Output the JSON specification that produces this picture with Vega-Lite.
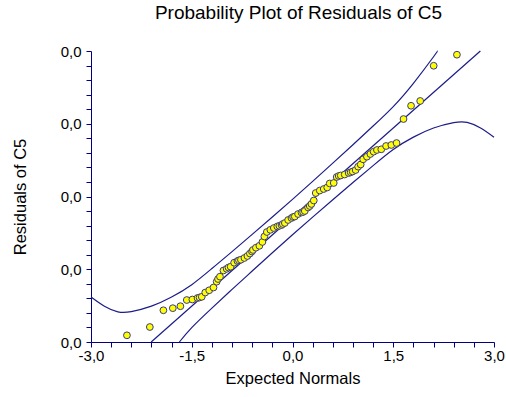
{
  "$schema": "https://vega.github.io/schema/vega-lite/v6.json",
  "width": 403,
  "height": 291,
  "autosize": "none",
  "padding": {"left": 91, "top": 51, "right": 12, "bottom": 55},
  "background": "white",
  "title": {
    "text": "Probability Plot of Residuals of C5",
    "font": "Liberation Sans",
    "fontSize": 19,
    "fontWeight": "normal",
    "color": "#000000",
    "anchor": "middle",
    "frame": "group",
    "dx": 6,
    "offset": 21
  },
  "config": {
    "view": {"stroke": null},
    "axis": {
      "grid": false,
      "domainColor": "#000080",
      "tickColor": "#000080",
      "tickSize": 5,
      "domainWidth": 1,
      "tickWidth": 1,
      "labelFont": "Liberation Sans",
      "labelFontSize": 15,
      "labelColor": "#000000",
      "titleFont": "Liberation Sans",
      "titleFontSize": 16.5,
      "titleFontWeight": "normal",
      "titleColor": "#000000",
      "labelOverlap": false,
      "labelBound": false,
      "labelFlush": false
    }
  },
  "datasets": {
    "points": [
      {"x": -2.465, "y": 0.00092}, {"x": -2.124, "y": 0.00206}, {"x": -1.922, "y": 0.00436},
      {"x": -1.782, "y": 0.00465}, {"x": -1.669, "y": 0.00492}, {"x": -1.574, "y": 0.00577},
      {"x": -1.491, "y": 0.00584}, {"x": -1.414, "y": 0.00605}, {"x": -1.384, "y": 0.00612},
      {"x": -1.351, "y": 0.00621}, {"x": -1.299, "y": 0.0068}, {"x": -1.24, "y": 0.00711},
      {"x": -1.176, "y": 0.00749}, {"x": -1.129, "y": 0.00829}, {"x": -1.109, "y": 0.00866},
      {"x": -1.08, "y": 0.00898}, {"x": -1.028, "y": 0.00983}, {"x": -0.98, "y": 0.01006},
      {"x": -0.953, "y": 0.01024}, {"x": -0.921, "y": 0.01035}, {"x": -0.869, "y": 0.0109},
      {"x": -0.82, "y": 0.01113}, {"x": -0.797, "y": 0.01123}, {"x": -0.768, "y": 0.01131},
      {"x": -0.716, "y": 0.01155}, {"x": -0.671, "y": 0.01182}, {"x": -0.634, "y": 0.01216},
      {"x": -0.604, "y": 0.01244}, {"x": -0.589, "y": 0.01265}, {"x": -0.545, "y": 0.01296},
      {"x": -0.493, "y": 0.01322}, {"x": -0.448, "y": 0.01375}, {"x": -0.419, "y": 0.0145},
      {"x": -0.382, "y": 0.01512}, {"x": -0.33, "y": 0.01542}, {"x": -0.278, "y": 0.01567},
      {"x": -0.226, "y": 0.01588}, {"x": -0.196, "y": 0.01597}, {"x": -0.163, "y": 0.01608},
      {"x": -0.144, "y": 0.01622}, {"x": -0.114, "y": 0.01636}, {"x": -0.065, "y": 0.01677},
      {"x": -0.015, "y": 0.01704}, {"x": 0.009, "y": 0.01718}, {"x": 0.034, "y": 0.01725},
      {"x": 0.083, "y": 0.01759}, {"x": 0.134, "y": 0.0178}, {"x": 0.158, "y": 0.01787},
      {"x": 0.183, "y": 0.01801}, {"x": 0.232, "y": 0.01849}, {"x": 0.257, "y": 0.01869},
      {"x": 0.282, "y": 0.01897}, {"x": 0.317, "y": 0.01945}, {"x": 0.346, "y": 0.02048},
      {"x": 0.406, "y": 0.02082}, {"x": 0.465, "y": 0.02103}, {"x": 0.517, "y": 0.02124},
      {"x": 0.554, "y": 0.02179}, {"x": 0.614, "y": 0.02186}, {"x": 0.658, "y": 0.02268},
      {"x": 0.688, "y": 0.02282}, {"x": 0.718, "y": 0.02289}, {"x": 0.777, "y": 0.02302},
      {"x": 0.836, "y": 0.02323}, {"x": 0.866, "y": 0.02333}, {"x": 0.896, "y": 0.02344},
      {"x": 0.94, "y": 0.02364}, {"x": 0.977, "y": 0.0241}, {"x": 1.015, "y": 0.0244},
      {"x": 1.052, "y": 0.02511}, {"x": 1.108, "y": 0.02547}, {"x": 1.159, "y": 0.02584},
      {"x": 1.208, "y": 0.02616}, {"x": 1.257, "y": 0.02639}, {"x": 1.322, "y": 0.02649},
      {"x": 1.393, "y": 0.02694}, {"x": 1.471, "y": 0.02708}, {"x": 1.549, "y": 0.02735},
      {"x": 1.653, "y": 0.03065}, {"x": 1.765, "y": 0.03247}, {"x": 1.901, "y": 0.03313},
      {"x": 2.102, "y": 0.03797}, {"x": 2.448, "y": 0.03949}
    ],
    "upper": [
      {"x": -3.0, "y": 0.006187}, {"x": -2.8, "y": 0.004919}, {"x": -2.6, "y": 0.004152},
      {"x": -2.4, "y": 0.004184}, {"x": -2.1, "y": 0.004933}, {"x": -1.8, "y": 0.006181},
      {"x": -1.5, "y": 0.00788}, {"x": -1.2, "y": 0.010098}, {"x": -0.9, "y": 0.012427},
      {"x": -0.6, "y": 0.014795}, {"x": -0.3, "y": 0.017184}, {"x": 0.0, "y": 0.019602},
      {"x": 0.3, "y": 0.022081}, {"x": 0.6, "y": 0.024589}, {"x": 0.9, "y": 0.027118},
      {"x": 1.2, "y": 0.029686}, {"x": 1.5, "y": 0.032365}, {"x": 1.8, "y": 0.035563},
      {"x": 2.1, "y": 0.039212}, {"x": 2.157, "y": 0.04}
    ],
    "lower": [
      {"x": -1.684, "y": 0.0}, {"x": -1.5, "y": 0.00198}, {"x": -1.2, "y": 0.004658},
      {"x": -0.9, "y": 0.007227}, {"x": -0.6, "y": 0.009755}, {"x": -0.3, "y": 0.012264},
      {"x": 0.0, "y": 0.014742}, {"x": 0.3, "y": 0.017161}, {"x": 0.6, "y": 0.019549},
      {"x": 0.9, "y": 0.021918}, {"x": 1.2, "y": 0.024246}, {"x": 1.5, "y": 0.026465},
      {"x": 1.8, "y": 0.028163}, {"x": 2.1, "y": 0.029412}, {"x": 2.4, "y": 0.03016},
      {"x": 2.6, "y": 0.030192}, {"x": 2.8, "y": 0.029425}, {"x": 3.0, "y": 0.028157}
    ],
    "center": [
      {"x": -2.104, "y": 0.0}, {"x": 2.797, "y": 0.04}
    ]
  },
  "encoding": {
    "x": {
      "field": "x",
      "type": "quantitative",
      "scale": {"domain": [-3, 3], "nice": false, "zero": false},
      "axis": {
        "title": "Expected Normals",
        "values": [-3, -2.7, -2.4, -2.1, -1.8, -1.5, -1.2, -0.9, -0.6, -0.3, 0, 0.3, 0.6, 0.9, 1.2, 1.5, 1.8, 2.1, 2.4, 2.7, 3],
        "labelExpr": "datum.value % 1.5 == 0 ? (datum.value < 0 ? '-' : '') + replace(format(abs(datum.value), '.1f'), '.', ',') : ''",
        "labelPadding": 1,
        "titlePadding": 7
      }
    },
    "y": {
      "field": "y",
      "type": "quantitative",
      "scale": {"domain": [0, 0.04], "nice": false, "zero": false},
      "axis": {
        "title": "Residuals of C5",
        "values": [0, 0.002, 0.004, 0.006, 0.008, 0.01, 0.012, 0.014, 0.016, 0.018, 0.02, 0.022, 0.024, 0.026, 0.028, 0.03, 0.032, 0.034, 0.036, 0.038, 0.04],
        "labelExpr": "abs(datum.value * 100 - round(datum.value * 100)) < 0.000001 ? replace(format(datum.value, '.1f'), '.', ',') : ''",
        "labelPadding": 5,
        "titlePadding": 32
      }
    }
  },
  "layer": [
    {
      "data": {"name": "upper"},
      "mark": {"type": "line", "color": "#1c1c8a", "strokeWidth": 1.2, "interpolate": "natural"}
    },
    {
      "data": {"name": "lower"},
      "mark": {"type": "line", "color": "#1c1c8a", "strokeWidth": 1.2, "interpolate": "natural"}
    },
    {
      "data": {"name": "center"},
      "mark": {"type": "line", "color": "#1c1c8a", "strokeWidth": 1.2}
    },
    {
      "data": {"name": "points"},
      "mark": {"type": "point", "shape": "circle", "filled": false, "fill": "#ffff00", "fillOpacity": 1, "stroke": "#3a3a86", "strokeWidth": 1, "opacity": 1, "size": 46}
    }
  ]
}
